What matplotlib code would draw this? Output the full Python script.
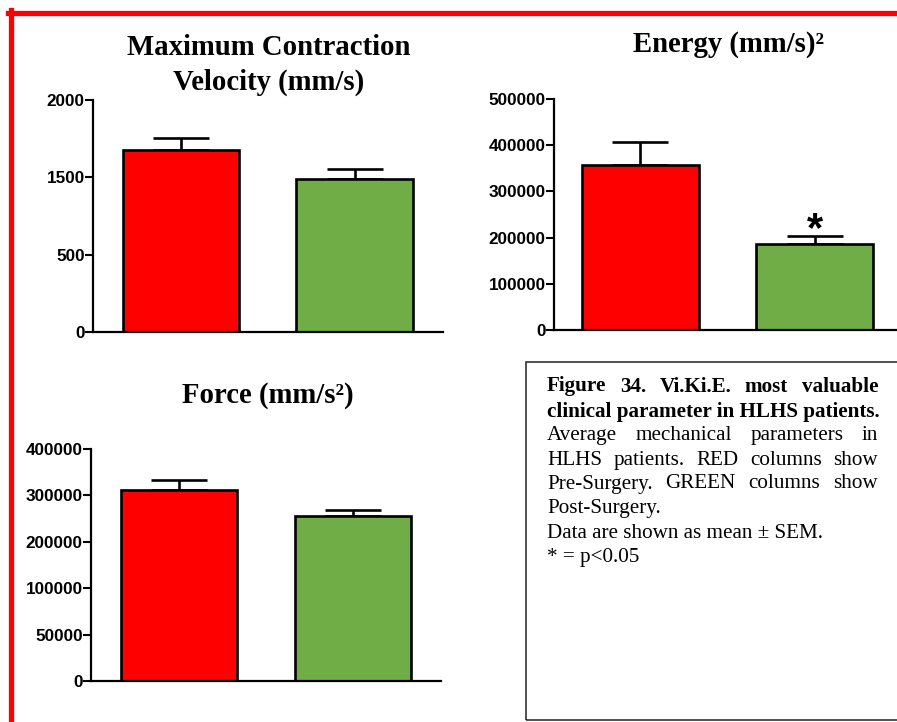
import numpy as np
import matplotlib
matplotlib.use("Agg")
import matplotlib.pyplot as plt
from matplotlib.lines import Line2D
from matplotlib.patches import Rectangle

W, H = 897, 722

groups = ["Pre-Surgery", "Post-Surgery"]
bar_colors = ["#FF0000", "#70AD47"]

velocity_mean = [1677, 1480]
velocity_sem = [75, 75]
velocity_ticks = [0, 500, 1500, 2000]

energy_mean = [358000, 186000]
energy_sem = [49000, 18000]
energy_ticks = [0, 100000, 200000, 300000, 400000, 500000]

force_mean = [312000, 256000]
force_sem = [21500, 12000]
force_ticks = [0, 50000, 100000, 200000, 300000, 400000]

caption_bold = ["Figure 34. Vi.Ki.E. most valuable",
                "clinical parameter in HLHS patients."]
caption_body = ["Average mechanical parameters in",
                "HLHS patients. RED columns show",
                "Pre-Surgery. GREEN columns show",
                "Post-Surgery.",
                "Data are shown as mean \u00b1 SEM.",
                "* = p<0.05"]

SERIF = "Liberation Serif"
SANS = "Liberation Sans"

fig = plt.figure(figsize=(W / 100, H / 100), dpi=100)


def px_axes(left, right, top, bottom):
    return fig.add_axes([left / W, 1 - bottom / H, (right - left) / W, (bottom - top) / H])


def segmented_scale(ax, ticks):
    # y axis with evenly spaced ticks (as in the original graph)
    idx = np.arange(len(ticks), dtype=float)
    t = np.asarray(ticks, dtype=float)
    ax.set_yscale("function", functions=(lambda v: np.interp(v, t, idx),
                                         lambda u: np.interp(u, idx, t)))


def bar_panel(ax, means, sems, ticks, xlim, segmented=False):
    if segmented:
        segmented_scale(ax, ticks)
    x = np.arange(len(means))
    ax.bar(x, means, width=0.67, color=bar_colors, edgecolor="black",
           linewidth=1.9, zorder=2)
    ax.errorbar(x, means, yerr=[[0] * len(sems), sems], fmt="none",
                ecolor="black", elinewidth=1.9, capsize=20.5, capthick=1.9,
                zorder=1)
    ax.set_ylim(ticks[0], ticks[-1])
    ax.set_xlim(*xlim)
    ax.set_yticks(ticks)
    ax.set_yticklabels([str(t) for t in ticks], fontfamily=SANS,
                       fontweight="bold", fontsize=12.3)
    ax.set_xticks([])
    ax.tick_params(axis="y", length=5.5, width=1.5, pad=0.5)
    for s in ["top", "right"]:
        ax.spines[s].set_visible(False)
    for s in ["left", "bottom"]:
        ax.spines[s].set_linewidth(1.6)
    ax.patch.set_alpha(0)


ax1 = px_axes(93, 443, 100, 332)
bar_panel(ax1, velocity_mean, velocity_sem, velocity_ticks, (-0.507, 1.51), segmented=True)

ax2 = px_axes(554, 905, 99, 330)
bar_panel(ax2, energy_mean, energy_sem, energy_ticks, (-0.497, 1.52))
ax2.annotate("*", xy=(1, energy_mean[1] + energy_sem[1]), xytext=(0, -10),
             textcoords="offset points", ha="center", va="bottom",
             fontsize=30, fontfamily=SANS, fontweight="bold")

ax3 = px_axes(91, 441, 449, 681)
bar_panel(ax3, force_mean, force_sem, force_ticks, (-0.506, 1.506), segmented=True)


def ftext(x, y, s, **kw):
    fig.text(x / W, 1 - y / H, s, **kw)


# titles
tkw = dict(ha="center", va="baseline", fontfamily=SERIF, fontweight="bold", fontsize=20.7)
ftext(268.5, 55, "Maximum Contraction", **tkw)
ftext(269, 90, "Velocity (mm/s)", **tkw)
ftext(728, 52, "Energy (mm/s)\u00b2", **tkw)
ftext(267.5, 403, "Force (mm/s\u00b2)", **tkw)

# red frame
fig.add_artist(Line2D([8 / W, 1], [1 - 12.5 / H, 1 - 12.5 / H], color="#FF0000",
                      linewidth=3.8, transform=fig.transFigure))
fig.add_artist(Line2D([10.8 / W, 10.8 / W], [1 - 10 / H, 0], color="#FF0000",
                      linewidth=3.8, transform=fig.transFigure))

# caption box
fig.add_artist(Rectangle((526 / W, 1 - 720 / H), (905 - 526) / W, (720 - 362) / H,
                         transform=fig.transFigure, fill=False,
                         edgecolor="#222222", linewidth=1.1))

renderer = fig.canvas.get_renderer()
x_left, x_right = 547, 878
fs_cap = 15.2


def caption_line(y, line, bold, justify):
    kw = dict(va="baseline", fontfamily=SERIF, fontsize=fs_cap,
              fontweight="bold" if bold else "normal")
    if not justify:
        ftext(x_left, y, line, ha="left", **kw)
        return
    words = line.split()
    widths = []
    for w in words:
        t = fig.text(0, 0, w, **kw)
        widths.append(t.get_window_extent(renderer).width)
        t.remove()
    gap = (x_right - x_left - sum(widths)) / (len(words) - 1)
    x = x_left
    for w, wd in zip(words, widths):
        ftext(x, y, w, ha="left", **kw)
        x += wd + gap


baselines = [391.5, 416.5, 440, 465, 488.5, 513, 537.5, 562]
lines = caption_bold + caption_body
bold_flags = [True, True] + [False] * len(caption_body)
justify_flags = [True, False, True, True, True, False, False, False]
for y, line, b, j in zip(baselines, lines, bold_flags, justify_flags):
    caption_line(y, line, b, j)

fig.savefig("out.png", dpi=100)
